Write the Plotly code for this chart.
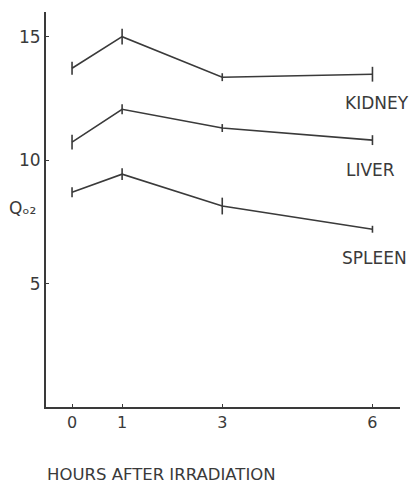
import plotly.graph_objects as go

hours = [0, 1, 3, 6]
kidney = [13.72, 15.0, 13.36, 13.48]
kidney_err = [0.26, 0.32, 0.16, 0.30]
liver = [10.73, 12.06, 11.3, 10.81]
liver_err = [0.30, 0.20, 0.16, 0.20]
spleen = [8.70, 9.43, 8.14, 7.2]
spleen_err = [0.20, 0.24, 0.34, 0.14]

series_names = ["KIDNEY", "LIVER", "SPLEEN"]
label_x = [6.1, 5.96, 6.04]
label_y = [12.3, 9.6, 6.03]

y_ticks = [5, 10, 15]
x_ticks = [0, 1, 3, 6]

ink = "#3a3a3a"
font_family = "DejaVu Sans, Verdana, sans-serif"

fig = go.Figure()
for vals, errs, name in zip([kidney, liver, spleen], [kidney_err, liver_err, spleen_err], series_names):
    fig.add_trace(go.Scatter(
        x=hours, y=vals, mode="lines", name=name,
        line=dict(color=ink, width=1.6),
        error_y=dict(type="data", array=errs, visible=True, color=ink, thickness=1.6, width=0),
        showlegend=False,
    ))

annotations = []
for name, lx, ly in zip(series_names, label_x, label_y):
    annotations.append(dict(x=lx, y=ly, xref="x", yref="y", text=name, showarrow=False,
                            font=dict(family=font_family, size=17, color=ink)))

annotations.append(dict(x=-0.003, y=-0.172, xref="paper", yref="paper", xanchor="left", yanchor="middle",
                        text="HOURS AFTER IRRADIATION", showarrow=False,
                        font=dict(family=font_family, size=16.5, color=ink)))
annotations.append(dict(x=-0.065, y=0.504, xref="paper", yref="paper", xanchor="center", yanchor="middle",
                        text="Qₒ₂", showarrow=False,
                        font=dict(family=font_family, size=17, color=ink)))

fig.update_layout(
    width=417, height=485,
    margin=dict(l=46, r=17, t=12, b=78),
    paper_bgcolor="white", plot_bgcolor="white",
    annotations=annotations,
    xaxis=dict(range=[-0.52, 6.55], tickvals=x_ticks, ticktext=[str(t) for t in x_ticks],
               showgrid=False, zeroline=False, showline=True, linecolor=ink, linewidth=1.6,
               ticks="inside", ticklen=3, tickcolor=ink, tickwidth=1,
               tickfont=dict(family=font_family, size=16, color=ink)),
    yaxis=dict(range=[0, 16], tickvals=y_ticks, ticktext=[str(t) for t in y_ticks],
               showgrid=False, zeroline=False, showline=True, linecolor=ink, linewidth=1.8,
               ticks="inside", ticklen=3, tickcolor=ink, tickwidth=1,
               tickfont=dict(family=font_family, size=17, color=ink)),
)

fig.write_html("out.html")
